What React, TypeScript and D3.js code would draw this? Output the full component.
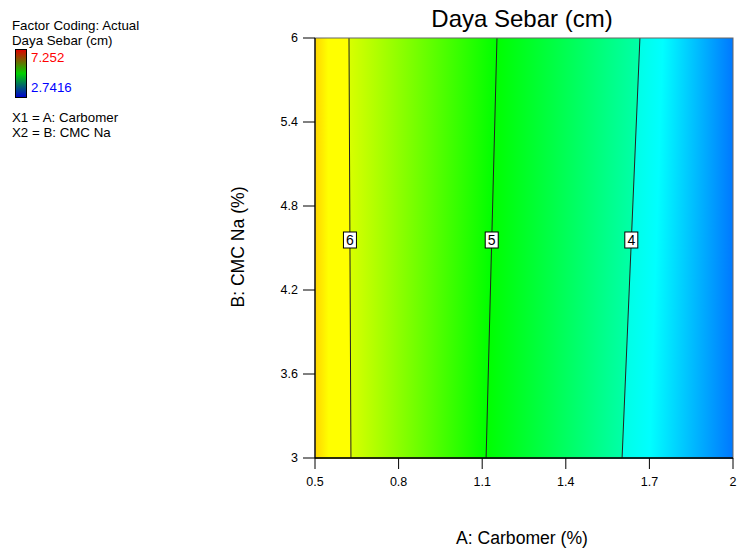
import React from "react";
import * as d3 from "d3";

const xTicks = [0.5, 0.8, 1.1, 1.4, 1.7, 2];
const yTicks = [3, 3.6, 4.2, 4.8, 5.4, 6];
const contourLevels = [6, 5, 4];
const contourAatB3 = [0.629, 1.114, 1.602];
const contourAatB6 = [0.622, 1.153, 1.666];
const labelB = 4.55;
const edgeValueLeft = 6.26;
const edgeValueRight = 3.19;
const fieldStopValues = [6.26, 6.16, 6.0001, 5.9999, 5, 4.0001, 3.9999, 3.8, 3.19];
const fieldStopColors = ["#ffd400", "#ffff00", "#ffff00", "#d8ff00", "#00ff00", "#00ffa8", "#00ffe6", "#00ffff", "#0078ff"];
const legendMax = "7.252";
const legendMin = "2.7416";

const W = 740;
const H = 548;
const FONT = "'Liberation Sans', Arial, sans-serif";

export default function App() {
  const x = d3.scaleLinear().domain([0.5, 2]).range([315, 733]);
  const y = d3.scaleLinear().domain([3, 6]).range([458, 38]);

  const contourA = (i: number, b: number) =>
    contourAatB3[i] + ((b - 3) / 3) * (contourAatB6[i] - contourAatB3[i]);

  const nRows = 70;
  const rows = d3.range(nRows).map((r) => {
    const b0 = 3 + (r / nRows) * 3;
    const b1 = 3 + ((r + 1) / nRows) * 3;
    const bm = (b0 + b1) / 2;
    const vs = [edgeValueLeft, ...contourLevels, edgeValueRight];
    const as = [0.5, ...contourLevels.map((_, i) => contourA(i, bm)), 2];
    const vToA = d3.scaleLinear().domain(vs).range(as);
    const stops = fieldStopValues.map((v, k) => ({
      off: (vToA(v) - 0.5) / 1.5,
      c: fieldStopColors[k],
    }));
    return { b0, b1, stops, id: `row${r}` };
  });

  return (
    <svg
      width={W}
      height={H}
      style={{ position: "absolute", left: 0, top: 0, background: "#fff" }}
      fontFamily={FONT}
    >
      <defs>
        {rows.map((row) => (
          <linearGradient key={row.id} id={row.id} gradientUnits="userSpaceOnUse" x1={x(0.5)} x2={x(2)} y1={0} y2={0}>
            {row.stops.map((s, k) => (
              <stop key={k} offset={s.off} stopColor={s.c} />
            ))}
          </linearGradient>
        ))}
        <linearGradient id="legendGrad" x1={0} x2={0} y1={0} y2={1}>
          <stop offset={0} stopColor="#e00000" />
          <stop offset={0.5} stopColor="#00d000" />
          <stop offset={1} stopColor="#0000d0" />
        </linearGradient>
      </defs>

      {/* Legend */}
      <g fontSize={13.3} fill="#000">
        <text x={12} y={30}>Factor Coding: Actual</text>
        <text x={12} y={45}>Daya Sebar (cm)</text>
        <rect x={15.5} y={49.5} width={11} height={48} fill="url(#legendGrad)" stroke="#000" strokeWidth={1} />
        <text x={31} y={62} fill="#ff0000">{legendMax}</text>
        <text x={31} y={92} fill="#0000ff">{legendMin}</text>
        <text x={12} y={122}>X1 = A: Carbomer</text>
        <text x={12} y={137}>X2 = B: CMC Na</text>
      </g>

      {/* Colour field */}
      <g shapeRendering="crispEdges">
        {rows.map((row) => (
          <rect
            key={row.id}
            x={x(0.5)}
            width={x(2) - x(0.5)}
            y={y(row.b1)}
            height={y(row.b0) - y(row.b1) + 0.6}
            fill={`url(#${row.id})`}
          />
        ))}
      </g>

      {/* Contour lines */}
      {contourLevels.map((lv, i) => (
        <line
          key={lv}
          x1={x(contourAatB3[i])}
          y1={y(3)}
          x2={x(contourAatB6[i])}
          y2={y(6)}
          stroke="#222"
          strokeWidth={1}
        />
      ))}
      {contourLevels.map((lv, i) => {
        const cx = x(contourA(i, labelB));
        const cy = y(labelB) - 1;
        return (
          <g key={`lab${lv}`}>
            <rect x={cx - 6.5} y={cy - 8} width={13} height={16} fill="#fff" stroke="#000" strokeWidth={1} />
            <text x={cx} y={cy + 5} textAnchor="middle" fontSize={14} fill="#000">{lv}</text>
          </g>
        );
      })}

      {/* Border */}
      <rect x={x(0.5)} y={y(6)} width={x(2) - x(0.5)} height={y(3) - y(6)} fill="none" stroke="#666" strokeWidth={1} />
      <line x1={x(0.5)} x2={x(2)} y1={y(3)} y2={y(3)} stroke="#000" strokeWidth={1.5} />
      <line x1={x(0.5)} x2={x(0.5)} y1={y(3)} y2={y(6)} stroke="#000" strokeWidth={1.2} />

      {/* X axis */}
      <g fontSize={12.5} fill="#000">
        {xTicks.map((t) => (
          <g key={t}>
            <line x1={x(t)} x2={x(t)} y1={y(3)} y2={y(3) + 11} stroke="#000" strokeWidth={1} />
            <text x={x(t)} y={486} textAnchor="middle">{t}</text>
          </g>
        ))}
      </g>
      {/* Y axis */}
      <g fontSize={12.5} fill="#000">
        {yTicks.map((t) => (
          <g key={t}>
            <line x1={x(0.5) - 12} x2={x(0.5)} y1={y(t)} y2={y(t)} stroke="#000" strokeWidth={1} />
            <text x={298} y={y(t) + 4} textAnchor="end">{t}</text>
          </g>
        ))}
      </g>

      {/* Titles */}
      <text x={522} y={27} textAnchor="middle" fontSize={24} fill="#000">Daya Sebar (cm)</text>
      <text x={522} y={544} textAnchor="middle" fontSize={17.6} fill="#000">A: Carbomer (%)</text>
      <text transform={`translate(244,247) rotate(-90)`} textAnchor="middle" fontSize={17.6} fill="#000">B: CMC Na (%)</text>
    </svg>
  );
}
